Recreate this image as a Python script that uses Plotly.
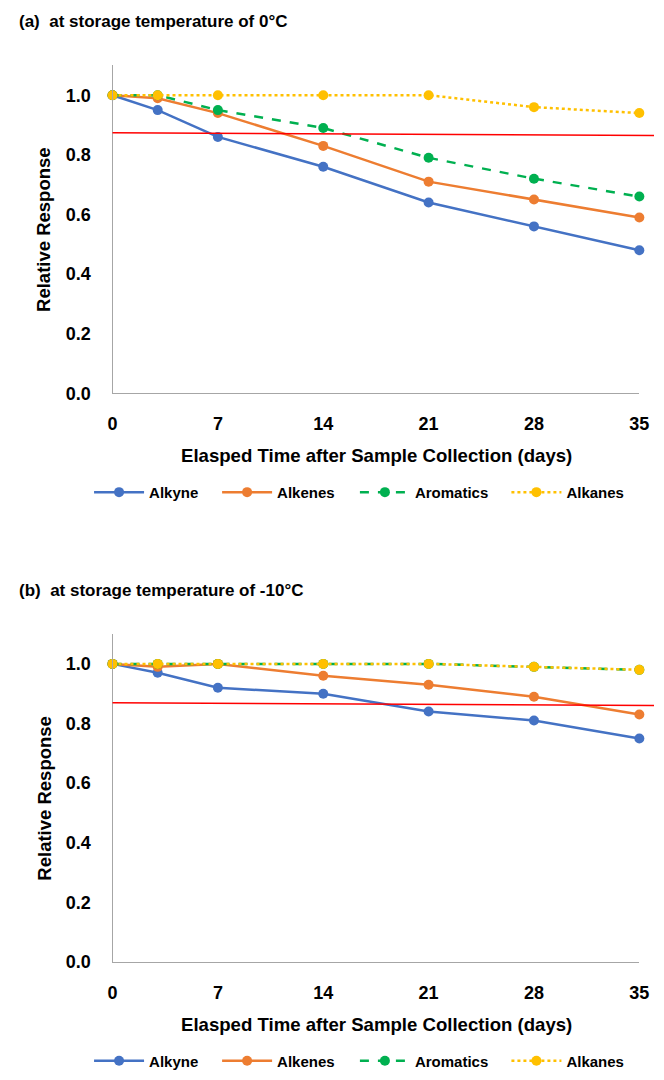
import plotly.graph_objects as go

W, H = 664, 1080
days = [0, 3, 7, 14, 21, 28, 35]
xticks = [0, 7, 14, 21, 28, 35]
yticks = [0.0, 0.2, 0.4, 0.6, 0.8, 1.0]
ytick_labels = ["0.0", "0.2", "0.4", "0.6", "0.8", "1.0"]

series_names = ["Alkyne", "Alkenes", "Aromatics", "Alkanes"]
# panel (a): 0 °C
a_alkyne = [1.0, 0.95, 0.86, 0.76, 0.64, 0.56, 0.48]
a_alkenes = [1.0, 0.99, 0.94, 0.83, 0.71, 0.65, 0.59]
a_aromatics = [1.0, 1.0, 0.95, 0.89, 0.79, 0.72, 0.66]
a_alkanes = [1.0, 1.0, 1.0, 1.0, 1.0, 0.96, 0.94]
# panel (b): -10 °C
b_alkyne = [1.0, 0.97, 0.92, 0.90, 0.84, 0.81, 0.75]
b_alkenes = [1.0, 0.99, 1.0, 0.96, 0.93, 0.89, 0.83]
b_aromatics = [1.0, 1.0, 1.0, 1.0, 1.0, 0.99, 0.98]
b_alkanes = [1.0, 1.0, 1.0, 1.0, 1.0, 0.99, 0.98]
# red reference line (start, end) values
a_ref = [0.874, 0.865]
b_ref = [0.870, 0.860]

colors = ["#4472C4", "#ED7D31", "#00B050", "#FFC000"]
dashes = ["solid", "solid", "dash", "dot"]
FONT = "Liberation Sans, Arial, sans-serif"

def py(p):
    return 1 - p / H

def px(p):
    return p / W

fig = go.Figure()

legend_x = [86, 217, 358, 513]
panels = [
    ("x", "y", 0, [a_alkyne, a_alkenes, a_aromatics, a_alkanes]),
    ("x2", "y2", 4, [b_alkyne, b_alkenes, b_aromatics, b_alkanes]),
]
for xa, ya, off, data in panels:
    for i, (name, vals, c, d) in enumerate(zip(series_names, data, colors, dashes)):
        k = off + i + 1
        lg = "legend" if k == 1 else f"legend{k}"
        fig.add_trace(go.Scatter(
            x=days, y=vals, name=name, mode="lines+markers",
            line=dict(color=c, width=2.5, dash=d),
            marker=dict(color=c, size=10, symbol="circle"),
            xaxis=xa, yaxis=ya, legend=lg, cliponaxis=False,
        ))

x_dom = [px(110), px(649)]
doms = [[py(397), py(66)], [py(971), py(640)]]

tickfont = dict(family=FONT, size=18, color="black", weight="bold")
axis_common = dict(showgrid=False, zeroline=False, showline=True,
                   linecolor="#A6A6A6", linewidth=1.2, ticks="", tickfont=tickfont)

layout = dict(
    width=W, height=H, margin=dict(l=0, r=0, t=0, b=0),
    plot_bgcolor="white", paper_bgcolor="white",
    font=dict(family=FONT, color="black"),
    showlegend=True,
    xaxis=dict(domain=x_dom, anchor="y", range=[0, 35], tickvals=xticks,
               ticklabelstandoff=14, **axis_common),
    yaxis=dict(domain=doms[0], anchor="x", range=[0, 1.1], tickvals=yticks,
               ticktext=ytick_labels, ticklabelstandoff=17, **axis_common),
    xaxis2=dict(domain=x_dom, anchor="y2", range=[0, 35], tickvals=xticks,
                ticklabelstandoff=14, **axis_common),
    yaxis2=dict(domain=doms[1], anchor="x2", range=[0, 1.1], tickvals=yticks,
                ticktext=ytick_labels, ticklabelstandoff=17, **axis_common),
)
for k in range(1, 9):
    key = "legend" if k == 1 else f"legend{k}"
    ypix = 497 if k <= 4 else 1071
    layout[key] = dict(x=px(legend_x[(k - 1) % 4]), y=py(ypix), xanchor="left",
                       yanchor="middle", itemwidth=50,
                       font=dict(family=FONT, size=15, color="black", weight="bold"),
                       bgcolor="rgba(0,0,0,0)")
fig.update_layout(**layout)

# red reference lines
for ref, ya in [(a_ref, "y"), (b_ref, "y2")]:
    fig.add_shape(type="line", xref="paper", yref=ya, x0=px(110), x1=1.0,
                  y0=ref[0], y1=ref[1], line=dict(color="#FF0000", width=1.5))

annots = [
    ("(a)  at storage temperature of 0\u00b0C", 12, 22),
    ("(b)  at storage temperature of -10\u00b0C", 12, 596),
]
for txt, xp, yp in annots:
    fig.add_annotation(text=txt, xref="paper", yref="paper", x=px(xp), y=py(yp),
                       xanchor="left", yanchor="middle", showarrow=False,
                       font=dict(family=FONT, size=17, color="black", weight="bold"))
for yp in [460, 1034]:
    fig.add_annotation(text="Elasped Time after Sample Collection (days)", xref="paper",
                       yref="paper", x=px(380.5), y=py(yp), xanchor="center", yanchor="middle",
                       showarrow=False,
                       font=dict(family=FONT, size=18.6, color="black", weight="bold"))
for yp in [232, 806]:
    fig.add_annotation(text="Relative Response", xref="paper", yref="paper",
                       x=px(40), y=py(yp), xanchor="center", yanchor="middle",
                       textangle=-90, showarrow=False,
                       font=dict(family=FONT, size=18.5, color="black", weight="bold"))

fig.write_html(
    "out.html", config={"displayModeBar": False},
    post_script=("document.body.style.margin='0';"
                 "document.body.style.overflow='hidden';"
                 "document.documentElement.style.overflow='hidden';"),
)
